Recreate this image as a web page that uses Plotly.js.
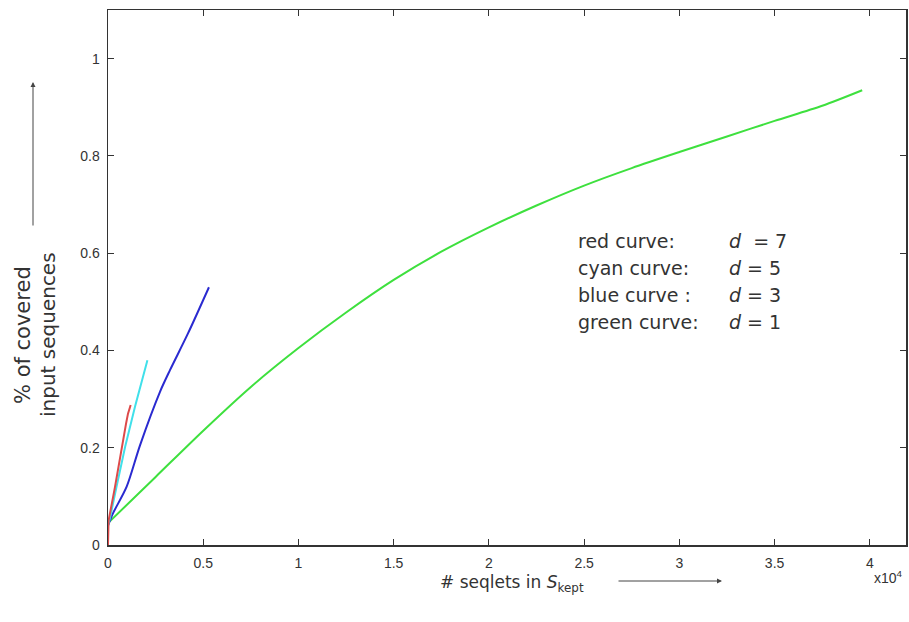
<!DOCTYPE html>
<html>
<head>
<meta charset="utf-8">
<script src="https://cdn.plot.ly/plotly-3.0.1.min.js"></script>
<style>
  html, body { margin: 0; padding: 0; background: #fff; }
  #chart { width: 909px; height: 622px; }
</style>
</head>
<body>
<div id="chart"></div>
<script>
// Coverage of input sequences vs. number of kept seqlets (x in units of 1e4)
var redX   = [0, 0.003, 0.037, 0.072, 0.095, 0.105, 0.119];
var redY   = [0.0, 0.05, 0.12, 0.202, 0.25, 0.27, 0.288];

var cyanX  = [0, 0.01, 0.045, 0.09, 0.142, 0.207];
var cyanY  = [0.04, 0.055, 0.12, 0.202, 0.285, 0.38];

var blueX  = [0, 0.026, 0.098, 0.168, 0.273, 0.326, 0.42, 0.53];
var blueY  = [0.04, 0.065, 0.12, 0.205, 0.315, 0.36, 0.435, 0.53];

var greenX = [0, 0.25, 0.5, 0.75, 1.0, 1.25, 1.5, 1.75, 2.0, 2.25, 2.5, 2.75, 3.0, 3.25, 3.5, 3.75, 3.96];
var greenY = [0.045, 0.14, 0.235, 0.325, 0.405, 0.478, 0.545, 0.603, 0.653, 0.698, 0.739, 0.775, 0.808, 0.84, 0.872, 0.903, 0.935];

var xTicks = [0, 0.5, 1, 1.5, 2, 2.5, 3, 3.5, 4];
var xTickText = ['0', '0.5', '1', '1.5', '2', '2.5', '3', '3.5', '4'];
var yTicks = [0, 0.2, 0.4, 0.6, 0.8, 1];
var yTickText = ['0', '0.2', '0.4', '0.6', '0.8', '1'];

var curveNames = ['red curve:', 'cyan curve:', 'blue curve :', 'green curve:'];
var dValues = [7, 5, 3, 1];

var TICKFONT = 'Liberation Sans, Arial, Helvetica, sans-serif';
var FONT = 'DejaVu Sans, Verdana, sans-serif';
var TXT = '#333';

function curve(x, y, color, shape) {
  return { x: x, y: y, mode: 'lines', type: 'scatter',
           line: { color: color, width: 2, shape: shape || 'linear', smoothing: 0.8 },
           hoverinfo: 'skip', showlegend: false };
}

var data = [
  curve(greenX, greenY, '#3ee03e', 'spline'),
  curve(blueX, blueY, '#2a2ad0', 'spline'),
  curve(cyanX, cyanY, '#40e0ea'),
  curve(redX, redY, '#dd4a4a')
];

// Plot area in pixels: left 108, right 906, top 10, bottom 545
var L = 108, R = 906, T = 10, B = 545;
function px2x(p) { return (p - L) / (R - L); }
function px2y(p) { return (B - p) / (B - T); }

var annotations = [];
var rowY = [241, 268, 295, 322];
curveNames.forEach(function (name, i) {
  annotations.push({ xref: 'paper', yref: 'paper', x: px2x(576), y: px2y(rowY[i]),
    xanchor: 'left', yanchor: 'middle', showarrow: false, text: name,
    font: { family: FONT, size: 19, color: TXT } });
  annotations.push({ xref: 'paper', yref: 'paper', x: px2x(727), y: px2y(rowY[i]),
    xanchor: 'left', yanchor: 'middle', showarrow: false,
    text: '<i>d</i>' + (i === 0 ? '  = ' : ' = ') + dValues[i],
    font: { family: FONT, size: 19, color: TXT } });
});

// y-axis title, two centred lines, rotated
annotations.push({ xref: 'paper', yref: 'paper', x: px2x(23), y: px2y(335),
  xanchor: 'center', yanchor: 'middle', textangle: -90, showarrow: false,
  text: '% of covered', font: { family: FONT, size: 21, color: TXT } });
annotations.push({ xref: 'paper', yref: 'paper', x: px2x(48), y: px2y(335),
  xanchor: 'center', yanchor: 'middle', textangle: -90, showarrow: false,
  text: 'input sequences', font: { family: FONT, size: 20, color: TXT } });
// upward arrow beside y title
annotations.push({ xref: 'paper', yref: 'paper', x: px2x(33), y: px2y(82),
  ax: 0, ay: 145, axref: 'pixel', ayref: 'pixel', text: '', showarrow: true,
  arrowhead: 2, arrowsize: 1, arrowwidth: 1, arrowcolor: '#444' });

// x-axis title and arrow
annotations.push({ xref: 'paper', yref: 'paper', x: px2x(438), y: px2y(583),
  xanchor: 'left', yanchor: 'middle', showarrow: false,
  text: '# seqlets in <i>S</i><sub>kept</sub>', font: { family: FONT, size: 17, color: TXT } });
annotations.push({ xref: 'paper', yref: 'paper', x: px2x(722), y: px2y(581),
  ax: -105, ay: 0, axref: 'pixel', ayref: 'pixel', text: '', showarrow: true,
  arrowhead: 2, arrowsize: 1, arrowwidth: 1, arrowcolor: '#444' });
// exponent label
annotations.push({ xref: 'paper', yref: 'paper', x: px2x(888), y: px2y(577),
  xanchor: 'center', yanchor: 'middle', showarrow: false,
  text: 'x10<sup>4</sup>', font: { family: TICKFONT, size: 14, color: TXT } });

var axisCommon = {
  showline: true, linecolor: '#333', linewidth: 1.5, mirror: 'ticks',
  ticks: 'inside', ticklen: 6, tickwidth: 1, tickcolor: '#333',
  showgrid: false, zeroline: false,
  tickfont: { family: TICKFONT, size: 14, color: TXT }
};

var layout = {
  width: 909, height: 622,
  margin: { l: L, r: 909 - R, t: T, b: 622 - B },
  paper_bgcolor: '#fff', plot_bgcolor: '#fff',
  xaxis: Object.assign({}, axisCommon, {
    range: [0, 4.19], tickmode: 'array', tickvals: xTicks, ticktext: xTickText,
    ticklabelstandoff: 5
  }),
  yaxis: Object.assign({}, axisCommon, {
    range: [0, 1.1], tickmode: 'array', tickvals: yTicks, ticktext: yTickText,
    ticklabelstandoff: 4
  }),
  annotations: annotations,
  showlegend: false
};

Plotly.newPlot('chart', data, layout, { displayModeBar: false, staticPlot: true });
</script>
</body>
</html>
